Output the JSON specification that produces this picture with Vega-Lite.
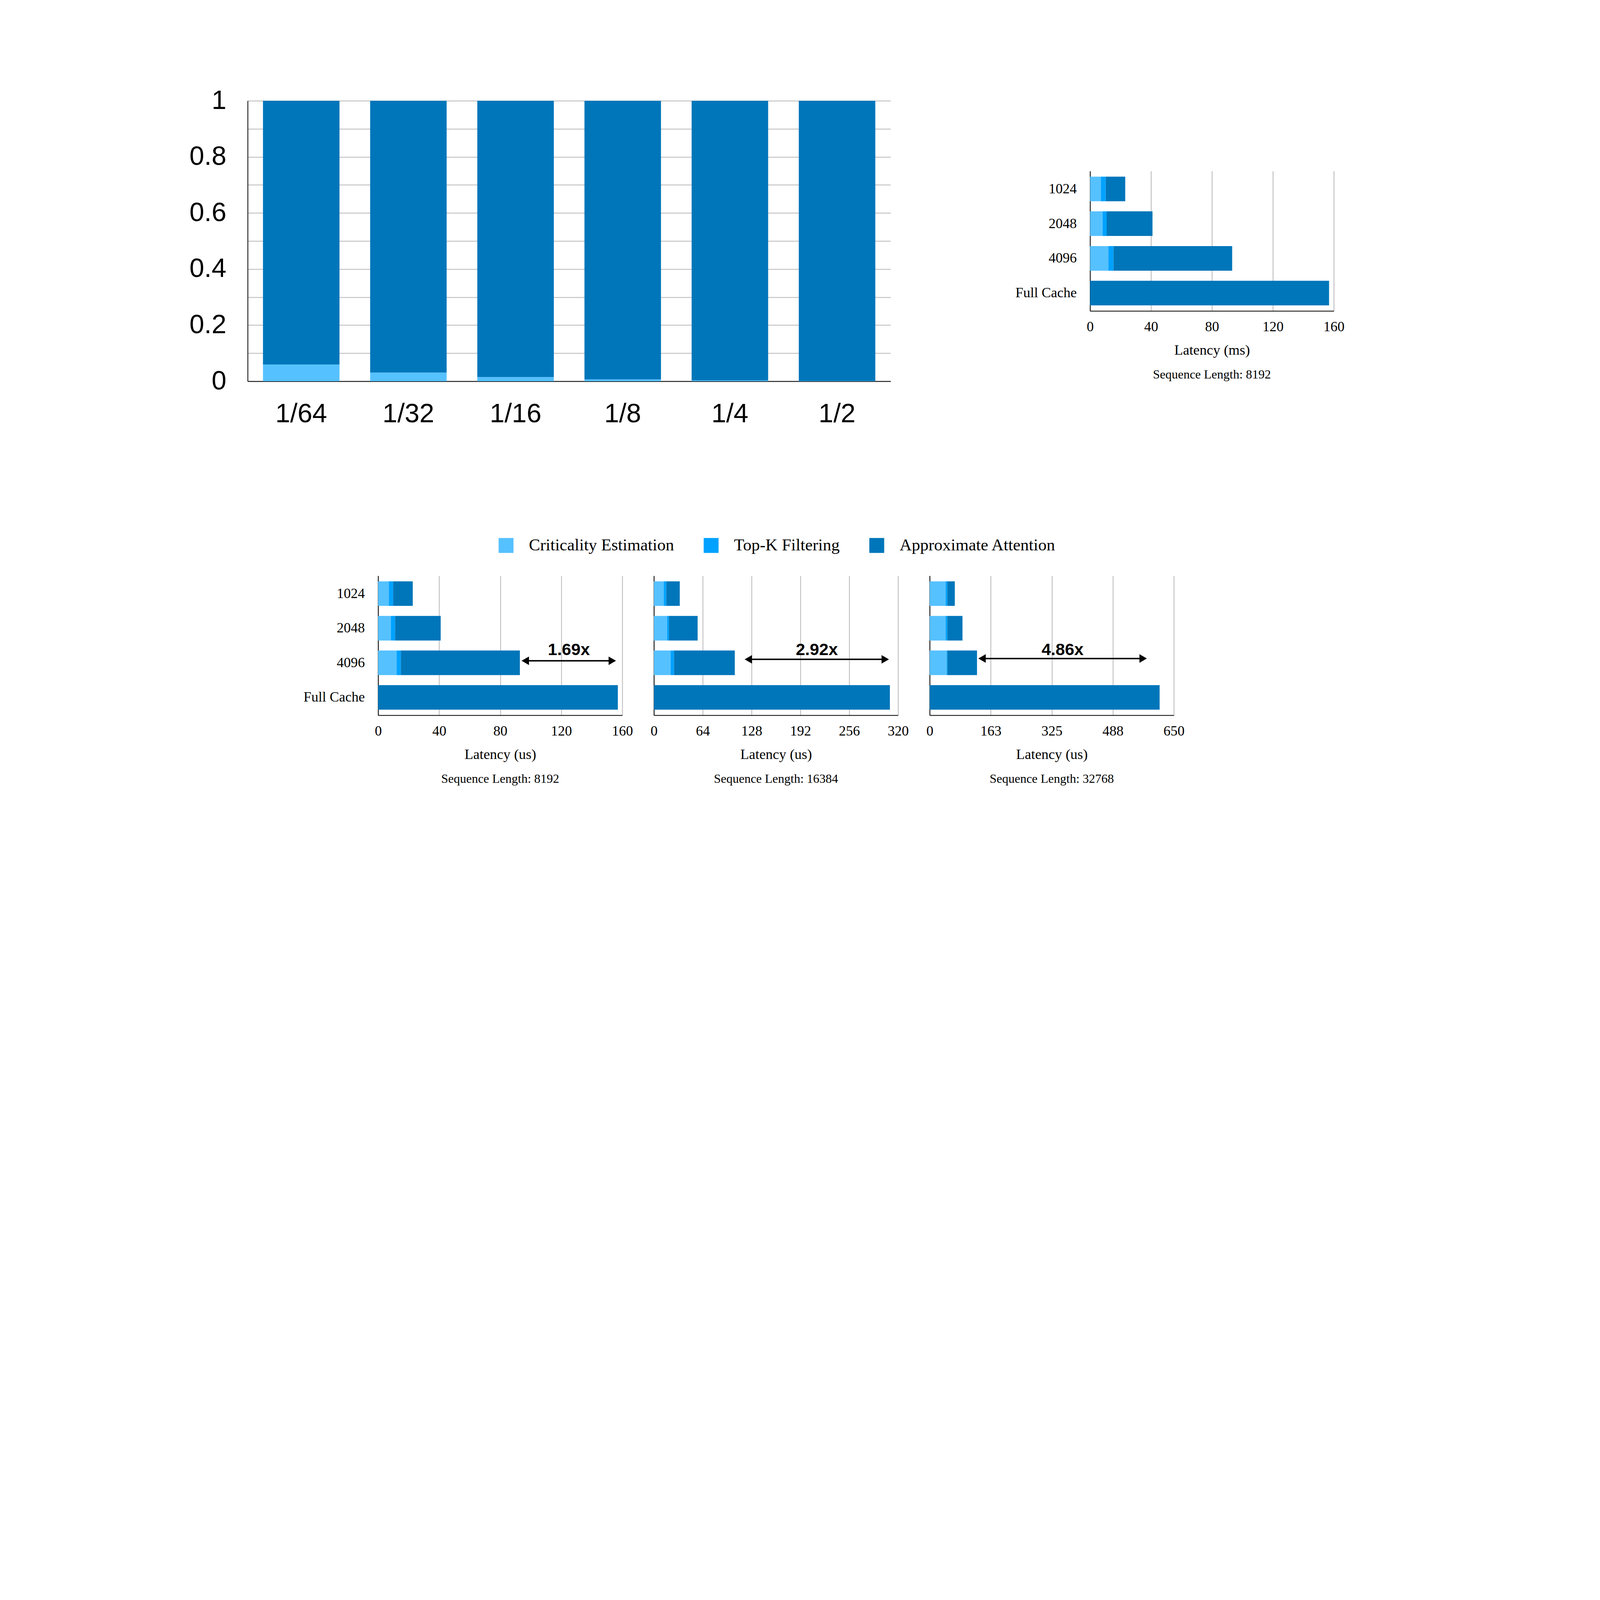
{
  "$schema": "https://vega.github.io/schema/vega-lite/v6.json",
  "background": "white",
  "autosize": {"type": "pad"},
  "padding": {"left": 484, "top": 224, "right": 738, "bottom": 340},
  "datasets": {
    "ratio": [
      {"ratio": "1/64", "component": "Criticality Estimation", "stage": 1, "share": 0.06},
      {"ratio": "1/64", "component": "Approximate Attention", "stage": 3, "share": 0.94},
      {"ratio": "1/32", "component": "Criticality Estimation", "stage": 1, "share": 0.031},
      {"ratio": "1/32", "component": "Approximate Attention", "stage": 3, "share": 0.969},
      {"ratio": "1/16", "component": "Criticality Estimation", "stage": 1, "share": 0.015},
      {"ratio": "1/16", "component": "Approximate Attention", "stage": 3, "share": 0.985},
      {"ratio": "1/8", "component": "Criticality Estimation", "stage": 1, "share": 0.007},
      {"ratio": "1/8", "component": "Approximate Attention", "stage": 3, "share": 0.993},
      {"ratio": "1/4", "component": "Criticality Estimation", "stage": 1, "share": 0.003},
      {"ratio": "1/4", "component": "Approximate Attention", "stage": 3, "share": 0.997},
      {"ratio": "1/2", "component": "Criticality Estimation", "stage": 1, "share": 0.0015},
      {"ratio": "1/2", "component": "Approximate Attention", "stage": 3, "share": 0.9985}
    ],
    "ms8192": [
      {"config": "1024", "component": "Criticality Estimation", "stage": 1, "value": 7.1},
      {"config": "1024", "component": "Top-K Filtering", "stage": 2, "value": 3.2},
      {"config": "1024", "component": "Approximate Attention", "stage": 3, "value": 12.8},
      {"config": "2048", "component": "Criticality Estimation", "stage": 1, "value": 8.2},
      {"config": "2048", "component": "Top-K Filtering", "stage": 2, "value": 2.7},
      {"config": "2048", "component": "Approximate Attention", "stage": 3, "value": 30.1},
      {"config": "4096", "component": "Criticality Estimation", "stage": 1, "value": 12.0},
      {"config": "4096", "component": "Top-K Filtering", "stage": 2, "value": 3.4},
      {"config": "4096", "component": "Approximate Attention", "stage": 3, "value": 77.9},
      {"config": "Full Cache", "component": "Approximate Attention", "stage": 3, "value": 156.9}
    ],
    "us8192": [
      {"config": "1024", "component": "Criticality Estimation", "stage": 1, "value": 7.0},
      {"config": "1024", "component": "Top-K Filtering", "stage": 2, "value": 2.8},
      {"config": "1024", "component": "Approximate Attention", "stage": 3, "value": 12.9},
      {"config": "2048", "component": "Criticality Estimation", "stage": 1, "value": 8.3},
      {"config": "2048", "component": "Top-K Filtering", "stage": 2, "value": 2.8},
      {"config": "2048", "component": "Approximate Attention", "stage": 3, "value": 29.9},
      {"config": "4096", "component": "Criticality Estimation", "stage": 1, "value": 12.1},
      {"config": "4096", "component": "Top-K Filtering", "stage": 2, "value": 2.8},
      {"config": "4096", "component": "Approximate Attention", "stage": 3, "value": 78.0},
      {"config": "Full Cache", "component": "Approximate Attention", "stage": 3, "value": 157.1}
    ],
    "us16384": [
      {"config": "1024", "component": "Criticality Estimation", "stage": 1, "value": 12.9},
      {"config": "1024", "component": "Top-K Filtering", "stage": 2, "value": 3.3},
      {"config": "1024", "component": "Approximate Attention", "stage": 3, "value": 17.7},
      {"config": "2048", "component": "Criticality Estimation", "stage": 1, "value": 17.4},
      {"config": "2048", "component": "Top-K Filtering", "stage": 2, "value": 2.2},
      {"config": "2048", "component": "Approximate Attention", "stage": 3, "value": 37.7},
      {"config": "4096", "component": "Criticality Estimation", "stage": 1, "value": 22.0},
      {"config": "4096", "component": "Top-K Filtering", "stage": 2, "value": 4.3},
      {"config": "4096", "component": "Approximate Attention", "stage": 3, "value": 79.7},
      {"config": "Full Cache", "component": "Approximate Attention", "stage": 3, "value": 309.3}
    ],
    "us32768": [
      {"config": "1024", "component": "Criticality Estimation", "stage": 1, "value": 42.2},
      {"config": "1024", "component": "Top-K Filtering", "stage": 2, "value": 4.9},
      {"config": "1024", "component": "Approximate Attention", "stage": 3, "value": 19.8},
      {"config": "2048", "component": "Criticality Estimation", "stage": 1, "value": 42.2},
      {"config": "2048", "component": "Top-K Filtering", "stage": 2, "value": 4.9},
      {"config": "2048", "component": "Approximate Attention", "stage": 3, "value": 40.2},
      {"config": "4096", "component": "Criticality Estimation", "stage": 1, "value": 45.1},
      {"config": "4096", "component": "Top-K Filtering", "stage": 2, "value": 2.0},
      {"config": "4096", "component": "Approximate Attention", "stage": 3, "value": 78.9},
      {"config": "Full Cache", "component": "Approximate Attention", "stage": 3, "value": 612.2}
    ],
    "arrow8192": [{"config": "4096", "from": 94.0, "to": 155.9, "mid": 125.0, "label": "1.69x"}],
    "arrow16384": [{"config": "4096", "from": 118.9, "to": 308.1, "mid": 213.5, "label": "2.92x"}],
    "arrow32768": [{"config": "4096", "from": 129.5, "to": 578.2, "mid": 353.8, "label": "4.86x"}]
  },
  "config": {
    "view": {"stroke": null},
    "font": "Liberation Serif",
    "axis": {
      "ticks": false,
      "domainColor": "#000000",
      "domainWidth": 2,
      "gridColor": "#b7b7b7",
      "gridWidth": 2,
      "gridOpacity": 1,
      "labelColor": "#000000",
      "labelFont": "Liberation Serif",
      "labelFontSize": 36,
      "labelPadding": 23,
      "labelFlush": false,
      "labelOverlap": false,
      "labelLimit": 1000,
      "titleColor": "#000000",
      "titleFont": "Liberation Serif",
      "titleFontSize": 36.5,
      "titleFontWeight": "normal",
      "titlePadding": 24.5
    },
    "legend": {
      "symbolType": "square",
      "symbolSize": 1452,
      "symbolStrokeWidth": 0,
      "symbolOpacity": 1,
      "labelFont": "Liberation Serif",
      "labelFontSize": 43,
      "labelColor": "#000000",
      "labelOffset": 37,
      "labelLimit": 1000,
      "columnPadding": 73,
      "padding": 0
    }
  },
  "spacing": 377,
  "vconcat": [
    {
      "bounds": "flush",
      "center": true,
      "spacing": 510.5,
      "hconcat": [
        {
          "width": 1646,
          "height": 718,
          "data": {"name": "ratio"},
          "mark": {"type": "bar"},
          "encoding": {
            "x": {
              "field": "ratio", "type": "nominal",
              "scale": {"domain": ["1/64", "1/32", "1/16", "1/8", "1/4", "1/2"], "paddingInner": 0.286, "paddingOuter": 0.143},
              "axis": {"title": null, "labelAngle": 0, "labelFont": "Liberation Sans", "labelFontSize": 68, "labelPadding": 50, "grid": false}
            },
            "y": {
              "field": "share", "type": "quantitative", "stack": "zero",
              "scale": {"domain": [0, 1], "nice": false},
              "axis": {
                "title": null, "grid": true,
                "values": [0, 0.1, 0.2, 0.3, 0.4, 0.5, 0.6, 0.7, 0.8, 0.9, 1],
                "labelExpr": "round(datum.value * 10) % 2 == 0 ? format(datum.value, '~g') : ''",
                "labelFont": "Liberation Sans", "labelFontSize": 68, "labelPadding": 55
              }
            },
            "color": {
              "field": "component", "type": "nominal",
              "scale": {"domain": ["Criticality Estimation", "Top-K Filtering", "Approximate Attention"], "range": ["#56C1FF", "#00A2FF", "#0076BA"]},
              "legend": {"orient": "none", "legendX": 640, "legendY": 1116.6, "direction": "horizontal", "title": null}
            },
            "order": {"field": "stage", "type": "quantitative", "sort": "ascending"}
          }
        },
        {
          "width": 624,
          "height": 358,
          "data": {"name": "ms8192"},
          "title": {"text": "Sequence Length: 8192", "orient": "bottom", "frame": "group", "anchor": "middle", "offset": 29, "font": "Liberation Serif", "fontSize": 32, "fontWeight": "normal", "color": "#000000"},
          "mark": {"type": "bar"},
          "encoding": {
            "y": {
              "field": "config", "type": "nominal",
              "scale": {"domain": ["1024", "2048", "4096", "Full Cache"], "paddingInner": 0.29, "paddingOuter": 0.16},
              "axis": {"title": null, "labelPadding": 34.5}
            },
            "x": {
              "field": "value", "type": "quantitative", "stack": "zero",
              "scale": {"domain": [0, 160], "nice": false},
              "axis": {"title": "Latency (ms)", "grid": true, "values": [0, 40, 80, 120, 160]}
            },
            "color": {
              "field": "component", "type": "nominal",
              "scale": {"domain": ["Criticality Estimation", "Top-K Filtering", "Approximate Attention"], "range": ["#56C1FF", "#00A2FF", "#0076BA"]},
              "legend": {"orient": "none", "legendX": 640, "legendY": 1116.6, "direction": "horizontal", "title": null}
            },
            "order": {"field": "stage", "type": "quantitative", "sort": "ascending"}
          }
        }
      ]
    },
    {
      "bounds": "flush",
      "spacing": 81,
      "hconcat": [
        {
          "width": 252.4, "height": 1,
          "data": {"values": [{}]},
          "mark": {"type": "point", "opacity": 0},
          "encoding": {}
        },
        {
          "width": 625,
          "height": 357,
          "title": {"text": "Sequence Length: 8192", "orient": "bottom", "frame": "group", "anchor": "middle", "offset": 29, "font": "Liberation Serif", "fontSize": 32, "fontWeight": "normal", "color": "#000000"},
          "layer": [
            {
              "data": {"name": "us8192"},
              "mark": {"type": "bar"},
              "encoding": {
                "y": {
                  "field": "config", "type": "nominal",
                  "scale": {"domain": ["1024", "2048", "4096", "Full Cache"], "paddingInner": 0.29, "paddingOuter": 0.16},
                  "axis": {"title": null, "labelPadding": 34.5}
                },
                "x": {
                  "field": "value", "type": "quantitative", "stack": "zero",
                  "scale": {"domain": [0, 160], "nice": false},
                  "axis": {"title": "Latency (us)", "grid": true, "values": [0, 40, 80, 120, 160]}
                },
                "color": {
                  "field": "component", "type": "nominal",
                  "scale": {"domain": ["Criticality Estimation", "Top-K Filtering", "Approximate Attention"], "range": ["#56C1FF", "#00A2FF", "#0076BA"]},
                  "legend": {"orient": "none", "legendX": 640, "legendY": 1116.6, "direction": "horizontal", "title": null}
                },
                "order": {"field": "stage", "type": "quantitative", "sort": "ascending"}
              }
            },
            {
              "data": {"name": "arrow8192"},
              "mark": {"type": "rule", "color": "#000000", "strokeWidth": 3.7, "xOffset": 10.5, "x2Offset": -10.5, "yOffset": -5.2},
              "encoding": {
                "y": {"field": "config", "type": "nominal", "title": null},
                "x": {"field": "from", "type": "quantitative", "title": "Latency (us)"},
                "x2": {"field": "to"}
              }
            },
            {
              "data": {"name": "arrow8192"},
              "mark": {"type": "point", "shape": "triangle-left", "filled": true, "color": "#000000", "opacity": 1, "size": 480, "strokeWidth": 0, "xOffset": 9.5, "yOffset": -5.2},
              "encoding": {
                "y": {"field": "config", "type": "nominal", "title": null},
                "x": {"field": "from", "type": "quantitative", "title": "Latency (us)"}
              }
            },
            {
              "data": {"name": "arrow8192"},
              "mark": {"type": "point", "shape": "triangle-right", "filled": true, "color": "#000000", "opacity": 1, "size": 480, "strokeWidth": 0, "xOffset": -9.5, "yOffset": -5.2},
              "encoding": {
                "y": {"field": "config", "type": "nominal", "title": null},
                "x": {"field": "to", "type": "quantitative", "title": "Latency (us)"}
              }
            },
            {
              "data": {"name": "arrow8192"},
              "mark": {"type": "text", "font": "Liberation Sans", "fontWeight": "bold", "fontSize": 43, "color": "#000000", "align": "center", "baseline": "middle", "yOffset": -32.4},
              "encoding": {
                "y": {"field": "config", "type": "nominal", "title": null},
                "x": {"field": "mid", "type": "quantitative", "title": "Latency (us)"},
                "text": {"field": "label"}
              }
            }
          ]
        },
        {
          "width": 625,
          "height": 357,
          "title": {"text": "Sequence Length: 16384", "orient": "bottom", "frame": "group", "anchor": "middle", "offset": 29, "font": "Liberation Serif", "fontSize": 32, "fontWeight": "normal", "color": "#000000"},
          "layer": [
            {
              "data": {"name": "us16384"},
              "mark": {"type": "bar"},
              "encoding": {
                "y": {
                  "field": "config", "type": "nominal",
                  "scale": {"domain": ["1024", "2048", "4096", "Full Cache"], "paddingInner": 0.29, "paddingOuter": 0.16},
                  "axis": {"title": null, "labels": false}
                },
                "x": {
                  "field": "value", "type": "quantitative", "stack": "zero",
                  "scale": {"domain": [0, 320], "nice": false},
                  "axis": {"title": "Latency (us)", "grid": true, "values": [0, 64, 128, 192, 256, 320]}
                },
                "color": {
                  "field": "component", "type": "nominal",
                  "scale": {"domain": ["Criticality Estimation", "Top-K Filtering", "Approximate Attention"], "range": ["#56C1FF", "#00A2FF", "#0076BA"]},
                  "legend": {"orient": "none", "legendX": 640, "legendY": 1116.6, "direction": "horizontal", "title": null}
                },
                "order": {"field": "stage", "type": "quantitative", "sort": "ascending"}
              }
            },
            {
              "data": {"name": "arrow16384"},
              "mark": {"type": "rule", "color": "#000000", "strokeWidth": 3.7, "xOffset": 10.5, "x2Offset": -10.5, "yOffset": -8.9},
              "encoding": {
                "y": {"field": "config", "type": "nominal", "title": null},
                "x": {"field": "from", "type": "quantitative", "title": "Latency (us)"},
                "x2": {"field": "to"}
              }
            },
            {
              "data": {"name": "arrow16384"},
              "mark": {"type": "point", "shape": "triangle-left", "filled": true, "color": "#000000", "opacity": 1, "size": 480, "strokeWidth": 0, "xOffset": 9.5, "yOffset": -8.9},
              "encoding": {
                "y": {"field": "config", "type": "nominal", "title": null},
                "x": {"field": "from", "type": "quantitative", "title": "Latency (us)"}
              }
            },
            {
              "data": {"name": "arrow16384"},
              "mark": {"type": "point", "shape": "triangle-right", "filled": true, "color": "#000000", "opacity": 1, "size": 480, "strokeWidth": 0, "xOffset": -9.5, "yOffset": -8.9},
              "encoding": {
                "y": {"field": "config", "type": "nominal", "title": null},
                "x": {"field": "to", "type": "quantitative", "title": "Latency (us)"}
              }
            },
            {
              "data": {"name": "arrow16384"},
              "mark": {"type": "text", "font": "Liberation Sans", "fontWeight": "bold", "fontSize": 43, "color": "#000000", "align": "center", "baseline": "middle", "yOffset": -32.4},
              "encoding": {
                "y": {"field": "config", "type": "nominal", "title": null},
                "x": {"field": "mid", "type": "quantitative", "title": "Latency (us)"},
                "text": {"field": "label"}
              }
            }
          ]
        },
        {
          "width": 625,
          "height": 357,
          "title": {"text": "Sequence Length: 32768", "orient": "bottom", "frame": "group", "anchor": "middle", "offset": 29, "font": "Liberation Serif", "fontSize": 32, "fontWeight": "normal", "color": "#000000"},
          "layer": [
            {
              "data": {"name": "us32768"},
              "mark": {"type": "bar"},
              "encoding": {
                "y": {
                  "field": "config", "type": "nominal",
                  "scale": {"domain": ["1024", "2048", "4096", "Full Cache"], "paddingInner": 0.29, "paddingOuter": 0.16},
                  "axis": {"title": null, "labels": false}
                },
                "x": {
                  "field": "value", "type": "quantitative", "stack": "zero",
                  "scale": {"domain": [0, 650], "nice": false},
                  "axis": {"title": "Latency (us)", "grid": true, "values": [0, 162.5, 325, 487.5, 650], "format": "d"}
                },
                "color": {
                  "field": "component", "type": "nominal",
                  "scale": {"domain": ["Criticality Estimation", "Top-K Filtering", "Approximate Attention"], "range": ["#56C1FF", "#00A2FF", "#0076BA"]},
                  "legend": {"orient": "none", "legendX": 640, "legendY": 1116.6, "direction": "horizontal", "title": null}
                },
                "order": {"field": "stage", "type": "quantitative", "sort": "ascending"}
              }
            },
            {
              "data": {"name": "arrow32768"},
              "mark": {"type": "rule", "color": "#000000", "strokeWidth": 3.7, "xOffset": 10.5, "x2Offset": -10.5, "yOffset": -11},
              "encoding": {
                "y": {"field": "config", "type": "nominal", "title": null},
                "x": {"field": "from", "type": "quantitative", "title": "Latency (us)"},
                "x2": {"field": "to"}
              }
            },
            {
              "data": {"name": "arrow32768"},
              "mark": {"type": "point", "shape": "triangle-left", "filled": true, "color": "#000000", "opacity": 1, "size": 480, "strokeWidth": 0, "xOffset": 9.5, "yOffset": -11},
              "encoding": {
                "y": {"field": "config", "type": "nominal", "title": null},
                "x": {"field": "from", "type": "quantitative", "title": "Latency (us)"}
              }
            },
            {
              "data": {"name": "arrow32768"},
              "mark": {"type": "point", "shape": "triangle-right", "filled": true, "color": "#000000", "opacity": 1, "size": 480, "strokeWidth": 0, "xOffset": -9.5, "yOffset": -11},
              "encoding": {
                "y": {"field": "config", "type": "nominal", "title": null},
                "x": {"field": "to", "type": "quantitative", "title": "Latency (us)"}
              }
            },
            {
              "data": {"name": "arrow32768"},
              "mark": {"type": "text", "font": "Liberation Sans", "fontWeight": "bold", "fontSize": 43, "color": "#000000", "align": "center", "baseline": "middle", "yOffset": -32.4},
              "encoding": {
                "y": {"field": "config", "type": "nominal", "title": null},
                "x": {"field": "mid", "type": "quantitative", "title": "Latency (us)"},
                "text": {"field": "label"}
              }
            }
          ]
        }
      ]
    }
  ]
}
